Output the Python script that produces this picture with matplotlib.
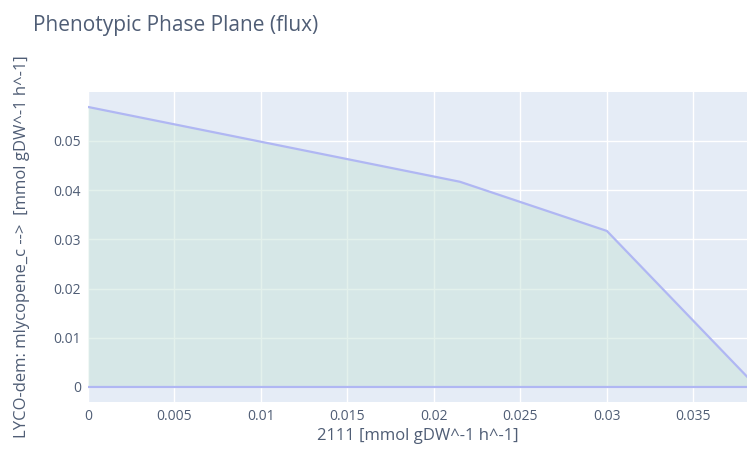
import matplotlib.pyplot as plt

# phase plane envelope
flux_2111 = [0.0, 0.0215, 0.0300, 0.0381]
lyco_max = [0.0569, 0.0417, 0.0317, 0.0021]
lyco_min = [0.0, 0.0, 0.0, 0.0]

xticks = [0, 0.005, 0.01, 0.015, 0.02, 0.025, 0.03, 0.035]
xtick_labels = ["0", "0.005", "0.01", "0.015", "0.02", "0.025", "0.03", "0.035"]
yticks = [0, 0.01, 0.02, 0.03, 0.04, 0.05]
ytick_labels = ["0", "0.01", "0.02", "0.03", "0.04", "0.05"]

plt.rcParams['font.family'] = ['Open Sans', 'DejaVu Sans']
txt = '#4f5d75'

fig = plt.figure(figsize=(7.47, 4.57), dpi=100)
ax = fig.add_axes([88 / 747, 55.3 / 457, 659 / 747, 310 / 457])
ax.set_facecolor('#e5ecf6')

ax.fill_between(flux_2111, lyco_min, lyco_max, color=(201/255, 228/255, 218/255),
                alpha=0.5, linewidth=0, zorder=2)
ax.plot(flux_2111, lyco_max, color='#b0b7f3', lw=1.6, zorder=3)
ax.plot(flux_2111, lyco_min, color='#b0b7f3', lw=1.6, zorder=3)

ax.set_xlim(0, 0.0381)
ax.set_ylim(-0.003, 0.06)
ax.set_xticks(xticks, xtick_labels)
ax.set_yticks(yticks, ytick_labels)
ax.grid(True, color='white', lw=1, zorder=1)
ax.set_axisbelow(True)
for s in ax.spines.values():
    s.set_visible(False)
ax.tick_params(length=0, labelsize=10, colors=txt, pad=5)

ax.set_xlabel('2111 [mmol gDW^-1 h^-1]', fontsize=12, color=txt, labelpad=3)
ax.set_ylabel('LYCO-dem: mlycopene_c -->  [mmol gDW^-1 h^-1]', fontsize=12,
              color=txt, labelpad=17)
fig.text(33 / 747, 1 - 25 / 457, 'Phenotypic Phase Plane (flux)', fontsize=15,
         color=txt, va='center', ha='left')

fig.savefig('out.png', dpi=100)
